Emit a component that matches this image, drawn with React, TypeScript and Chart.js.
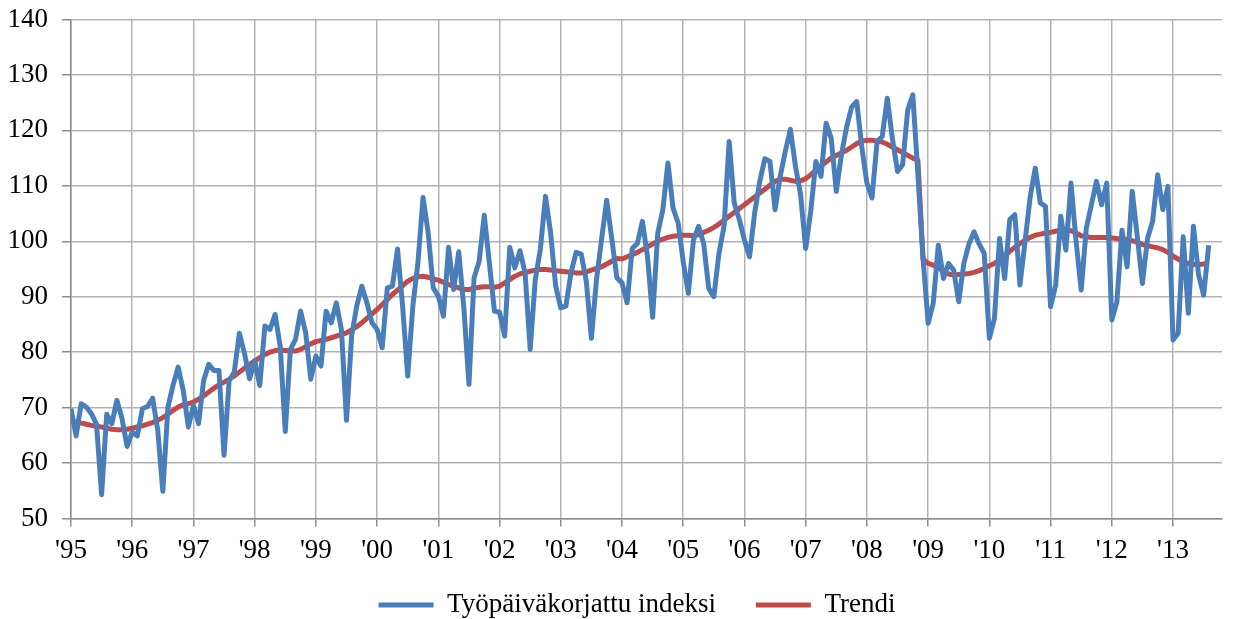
import { useEffect, useRef } from "react";
import { Chart, registerables } from "chart.js";

Chart.register(...registerables);

const yearLabels = ["'95", "'96", "'97", "'98", "'99", "'00", "'01", "'02", "'03", "'04", "'05", "'06", "'07", "'08", "'09", "'10", "'11", "'12", "'13"];

const seriesNames = ["Työpäiväkorjattu indeksi", "Trendi"];

// Monthly values, Jan 1995 – Aug 2013
const indexValues = [
  // 1995
  69.8, 64.9, 70.7, 70.1, 68.9, 67.0, 54.3, 68.8, 67.1, 71.3, 68.0, 63.0,
  // 1996
  65.6, 64.9, 69.8, 70.2, 71.7, 66.0, 54.9, 70.1, 74.0, 77.3, 73.1, 66.5,
  // 1997
  70.4, 67.1, 74.9, 77.8, 76.7, 76.7, 61.4, 74.9, 76.4, 83.4, 79.8, 75.2,
  // 1998
  78.5, 74.0, 84.7, 84.1, 86.8, 81.1, 65.7, 80.5, 82.3, 87.4, 83.5, 75.1,
  // 1999
  79.3, 77.5, 87.4, 85.3, 88.9, 84.1, 67.7, 82.9, 88.3, 91.9, 88.9, 85.3,
  // 2000
  84.1, 80.8, 91.6, 91.9, 98.6, 88.3, 75.7, 88.3, 96.1, 107.9, 101.6, 91.6,
  // 2001
  90.1, 86.5, 98.9, 91.3, 98.1, 88.0, 74.2, 93.4, 96.4, 104.7, 96.1, 87.4,
  // 2002
  87.2, 82.9, 98.9, 95.2, 98.3, 94.3, 80.5, 93.1, 98.6, 108.1, 101.6, 91.9,
  // 2003
  88.0, 88.3, 94.3, 98.0, 97.7, 92.8, 82.5, 93.1, 100.4, 107.4, 100.4, 93.4,
  // 2004
  92.5, 88.9, 98.7, 99.6, 103.6, 97.2, 86.3, 101.4, 105.7, 114.1, 106.0, 103.3,
  // 2005
  96.3, 90.6, 100.2, 102.7, 99.6, 91.5, 90.0, 97.8, 102.7, 118.0, 106.9, 103.9,
  // 2006
  100.2, 97.2, 105.1, 110.8, 114.9, 114.4, 105.7, 111.7, 116.2, 120.2, 113.5, 108.4,
  // 2007
  98.7, 105.5, 114.4, 111.7, 121.3, 118.6, 109.0, 115.6, 120.5, 124.2, 125.2, 117.0,
  // 2008
  110.5, 107.8, 118.0, 118.9, 125.8, 118.5, 112.6, 113.8, 123.7, 126.4, 112.0, 97.0,
  // 2009
  85.2, 88.8, 99.3, 93.3, 96.0, 94.8, 89.1, 96.0, 99.5, 101.7, 99.5, 97.8,
  // 2010
  82.5, 86.1, 100.5, 93.3, 103.9, 104.8, 92.1, 100.0, 108.0, 113.2, 106.9, 106.3,
  // 2011
  88.2, 92.1, 104.5, 98.4, 110.5, 100.0, 91.2, 102.3, 106.6, 110.8, 106.6, 110.5,
  // 2012
  85.8, 89.1, 102.0, 95.4, 109.0, 100.8, 92.4, 100.5, 103.6, 112.0, 105.7, 109.9,
  // 2013
  82.2, 83.4, 100.8, 87.0, 102.7, 94.0, 90.3, 99.3,
];

const trendValues = [
  // 1995
  67.7, 67.4, 67.2, 67.0, 66.8, 66.6, 66.5, 66.3, 66.1, 66.0, 66.0, 66.1,
  // 1996
  66.3, 66.5, 66.7, 67.0, 67.3, 67.7, 68.2, 68.8, 69.5, 70.1, 70.5, 70.7,
  // 1997
  71.0, 71.5, 72.1, 72.8, 73.5, 74.1, 74.6, 75.1, 75.7, 76.4, 77.1, 77.8,
  // 1998
  78.4, 79.0, 79.6, 80.0, 80.3, 80.4, 80.3, 80.2, 80.2, 80.5, 81.0, 81.5,
  // 1999
  81.9, 82.1, 82.3, 82.6, 82.9, 83.2, 83.5, 84.0, 84.6, 85.3, 86.1, 86.9,
  // 2000
  87.7, 88.6, 89.5, 90.4, 91.2, 92.0, 92.8, 93.3, 93.6, 93.7, 93.5, 93.2,
  // 2001
  93.0, 92.6, 92.2, 91.9, 91.6, 91.3, 91.3, 91.5, 91.7, 91.8, 91.8, 91.7,
  // 2002
  91.9, 92.5, 93.1, 93.7, 94.1, 94.4, 94.6, 94.8, 94.9, 94.9, 94.8, 94.7,
  // 2003
  94.6, 94.5, 94.4, 94.3, 94.3, 94.5, 94.8, 95.1, 95.4, 95.9, 96.4, 96.9,
  // 2004
  96.8, 97.2, 97.6, 98.0, 98.5, 99.0, 99.5, 100.0, 100.4, 100.7, 100.9, 101.0,
  // 2005
  101.1, 101.1, 101.0, 101.2, 101.6, 102.0, 102.5, 103.1, 103.8, 104.5, 105.2, 105.9,
  // 2006
  106.6, 107.3, 108.0, 108.7, 109.4, 110.1, 110.8, 111.2, 111.2, 111.0, 110.8, 110.9,
  // 2007
  111.3, 112.0, 112.8, 113.6, 114.3, 115.0, 115.5, 115.9, 116.4, 117.0, 117.6, 118.1,
  // 2008
  118.2, 118.2, 118.1, 117.9, 117.5, 117.0, 116.5, 116.0, 115.5, 115.0, 114.6, 96.8,
  // 2009
  96.0, 95.7, 95.3, 94.5, 94.1, 93.9, 94.0, 94.1, 94.2, 94.4, 94.7, 95.1,
  // 2010
  95.6, 96.0, 96.6, 97.4, 98.2, 98.9, 99.6, 100.2, 100.7, 101.1, 101.3, 101.5,
  // 2011
  101.6, 101.8, 102.0, 102.1, 101.9, 101.5, 101.0, 100.8, 100.7, 100.7, 100.7, 100.7,
  // 2012
  100.6, 100.5, 100.4, 100.3, 100.1, 99.8, 99.4, 99.2, 99.0, 98.8, 98.5, 98.0,
  // 2013
  97.3, 96.8, 96.3, 96.0, 95.8, 95.8, 95.9, 96.1,
];

const BLUE = "#4A7EBB";
const RED = "#BE4B48";
const GRID = "#B3B3B3";
const AXIS = "#8C8C8C";
const FONT = "'Liberation Serif', 'Times New Roman', serif";
const FONT_SIZE = 27;

export default function App() {
  const ref = useRef<HTMLCanvasElement>(null);

  useEffect(() => {
    document.body.style.margin = "0";
    document.body.style.overflow = "hidden";
    const canvas = ref.current;
    if (!canvas) return;
    const chart = new Chart(canvas, {
      type: "line",
      data: {
        datasets: [
          {
            label: seriesNames[0],
            data: indexValues.map((v, i) => ({ x: i, y: v })),
            borderColor: BLUE,
            backgroundColor: BLUE,
            borderWidth: 5,
            pointRadius: 0,
            tension: 0,
            borderJoinStyle: "round",
          },
          {
            label: seriesNames[1],
            data: trendValues.map((v, i) => ({ x: i, y: v })),
            borderColor: RED,
            backgroundColor: RED,
            borderWidth: 5,
            pointRadius: 0,
            tension: 0,
            borderJoinStyle: "round",
          },
        ],
      },
      options: {
        animation: false,
        responsive: false,
        devicePixelRatio: 1,
        layout: { padding: { top: 19.5, right: 11, left: 52, bottom: 0.5 } },
        plugins: {
          tooltip: { enabled: false },
          legend: {
            position: "bottom",
            labels: {
              usePointStyle: true,
              pointStyle: "line",
              pointStyleWidth: 55,
              padding: 40,
              color: "#000",
              font: { family: FONT, size: FONT_SIZE },
            },
          },
        },
        scales: {
          x: {
            type: "linear",
            min: 0,
            max: 225.6,
            afterBuildTicks: (s: any) => {
              s.ticks = yearLabels.map((_, i) => ({ value: i * 12 }));
            },
            afterFit: (s: any) => {
              s.height = 33;
              s._computeLabelArea = () => undefined;
            },
            ticks: {
              autoSkip: false,
              maxRotation: 0,
              padding: 8,
              color: "#000",
              font: { family: FONT, size: FONT_SIZE },
              callback: (v: any) => yearLabels[Math.round(Number(v) / 12)] ?? "",
            },
            grid: { color: GRID, lineWidth: 1.5, tickLength: 8, tickColor: AXIS },
            border: { color: AXIS, width: 1.5 },
          },
          y: {
            min: 50,
            max: 140,
            afterFit: (s: any) => {
              s.width = 19;
              s.paddingTop = 0;
              s.paddingBottom = 0;
              s._computeLabelArea = () => undefined;
            },
            ticks: {
              stepSize: 10,
              padding: 14,
              color: "#000",
              font: { family: FONT, size: FONT_SIZE },
            },
            grid: { color: GRID, lineWidth: 1.5, tickLength: 9, tickColor: AXIS },
            border: { color: AXIS, width: 1.5 },
          },
        },
      },
    });
    return () => chart.destroy();
  }, []);

  return <canvas ref={ref} width={1233} height={629} style={{ display: "block" }} />;
}
